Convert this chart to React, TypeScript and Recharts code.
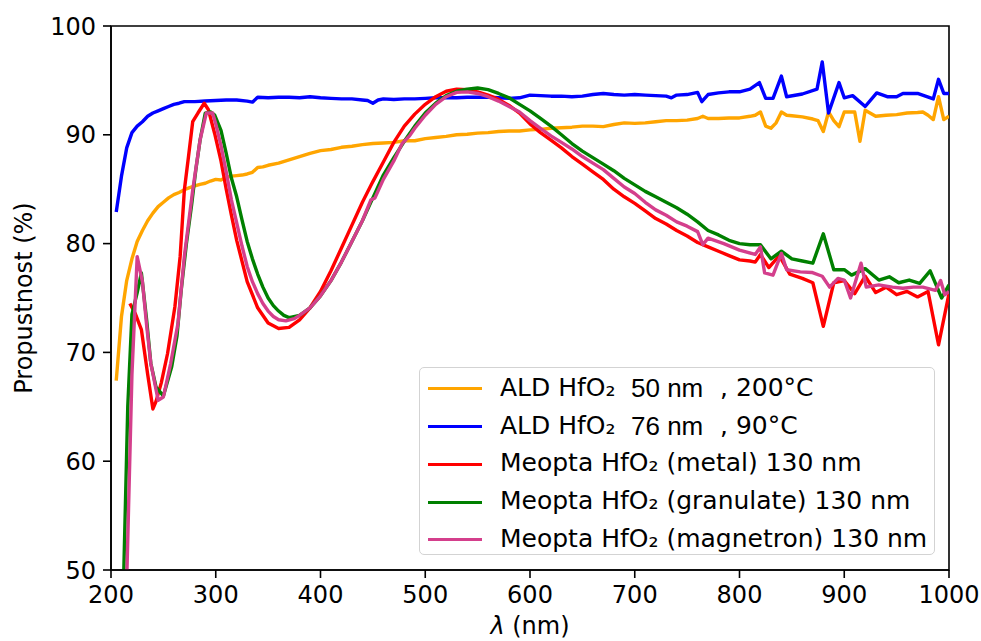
import { LineChart, Line, XAxis, YAxis, ReferenceArea, Label } from "recharts";

const xTicks = [200, 300, 400, 500, 600, 700, 800, 900, 1000];
const yTicks = [50, 60, 70, 80, 90, 100];

// ALD HfO2 50 nm, 200°C
const ald200Nm = [205, 210, 215, 220, 225, 230, 235, 240, 245, 250, 255, 260, 265, 270, 275, 280, 285, 290, 295, 300, 305, 310, 315, 320, 325, 330, 335, 340, 345, 350, 360, 370, 380, 390, 400, 410, 420, 430, 440, 450, 460, 470, 480, 490, 500, 510, 520, 530, 540, 550, 560, 570, 580, 590, 600, 610, 620, 630, 640, 650, 660, 670, 680, 690, 700, 710, 720, 730, 740, 750, 760, 765, 770, 780, 790, 800, 810, 815, 820, 825, 830, 835, 840, 845, 850, 860, 870, 875, 880, 885, 890, 895, 900, 905, 910, 915, 920, 930, 940, 950, 960, 970, 975, 980, 985, 990, 995, 1000];
const ald200T = [67.4, 73.3, 76.6, 78.6, 80.2, 81.2, 82.1, 82.8, 83.4, 83.8, 84.2, 84.5, 84.7, 84.95, 85.15, 85.3, 85.45, 85.55, 85.75, 85.9, 85.85, 86.1, 86.2, 86.25, 86.3, 86.4, 86.55, 87.0, 87.05, 87.2, 87.4, 87.7, 88.0, 88.3, 88.55, 88.65, 88.85, 88.95, 89.1, 89.2, 89.25, 89.3, 89.45, 89.45, 89.65, 89.75, 89.85, 90.0, 90.05, 90.15, 90.2, 90.3, 90.35, 90.35, 90.45, 90.5, 90.6, 90.65, 90.7, 90.8, 90.8, 90.75, 90.95, 91.1, 91.05, 91.1, 91.2, 91.3, 91.3, 91.35, 91.5, 91.7, 91.5, 91.5, 91.55, 91.55, 91.7, 91.8, 92.1, 90.8, 90.6, 91.1, 92.1, 91.8, 91.75, 91.65, 91.45, 91.3, 90.3, 92.1, 91.3, 90.75, 92.1, 92.1, 92.1, 89.4, 92.25, 91.7, 91.8, 91.85, 92.0, 92.05, 92.1, 91.8, 91.4, 93.5, 91.4, 91.7];

// ALD HfO2 76 nm, 90°C
const ald90Nm = [205, 210, 215, 220, 225, 230, 235, 240, 245, 250, 255, 260, 265, 270, 280, 290, 300, 310, 320, 330, 335, 340, 350, 360, 370, 380, 390, 400, 410, 420, 430, 440, 445, 450, 455, 460, 470, 480, 490, 500, 510, 520, 530, 540, 550, 560, 570, 580, 590, 600, 610, 620, 630, 640, 650, 660, 670, 680, 690, 700, 710, 720, 730, 735, 740, 750, 760, 764, 770, 780, 790, 800, 810, 819, 825, 832, 840, 845, 860, 874, 879, 885, 895, 900, 908, 920, 931, 941, 950, 956, 970, 985, 990, 995, 1000];
const ald90T = [82.9, 86.2, 88.8, 90.2, 90.8, 91.2, 91.7, 92.0, 92.2, 92.4, 92.6, 92.8, 92.9, 93.05, 93.05, 93.1, 93.15, 93.2, 93.2, 93.1, 93.0, 93.45, 93.4, 93.45, 93.45, 93.4, 93.5, 93.4, 93.35, 93.3, 93.3, 93.2, 93.15, 92.9, 93.2, 93.3, 93.25, 93.3, 93.3, 93.35, 93.4, 93.4, 93.4, 93.45, 93.45, 93.45, 93.4, 93.35, 93.4, 93.65, 93.6, 93.55, 93.55, 93.5, 93.55, 93.7, 93.8, 93.7, 93.65, 93.7, 93.65, 93.6, 93.55, 93.4, 93.65, 93.7, 93.9, 93.05, 93.7, 93.85, 93.95, 93.95, 94.2, 94.8, 93.35, 93.35, 95.4, 93.5, 93.75, 94.2, 96.7, 92.0, 94.8, 93.4, 93.6, 92.6, 93.85, 93.5, 93.5, 93.8, 93.8, 93.3, 95.1, 93.8, 93.8];

// Meopta HfO2 (metal) 130 nm
const metalNm = [218, 223, 229, 235, 240, 243, 248, 254, 261, 266, 270, 274, 278, 283, 289, 293, 299, 305, 310, 315, 320, 330, 340, 350, 360, 370, 380, 390, 400, 410, 420, 430, 440, 450, 460, 470, 480, 490, 500, 510, 520, 530, 540, 550, 560, 570, 580, 590, 600, 610, 620, 630, 640, 650, 660, 670, 680, 690, 700, 710, 720, 730, 740, 750, 760, 770, 780, 790, 800, 810, 815, 820, 828, 838, 848, 860, 870, 880, 890, 900, 910, 920, 930, 940, 950, 960, 970, 980, 990, 1000];
const metalT = [74.5, 73.6, 72.1, 68.0, 64.8, 65.5, 67.2, 69.9, 74.2, 78.8, 84.9, 88.0, 91.2, 92.0, 92.9, 92.3, 90.1, 87.6, 85.0, 82.6, 80.3, 76.5, 74.1, 72.7, 72.2, 72.3, 73.0, 74.1, 75.6, 77.5, 79.6, 81.7, 83.8, 85.7, 87.5, 89.3, 90.8, 91.9, 92.8, 93.5, 94.0, 94.2, 94.15, 93.95, 93.65, 93.25, 92.7, 92.0, 91.0, 90.2, 89.5, 88.8, 88.0, 87.3, 86.6, 85.9, 85.0, 84.3, 83.7, 83.0, 82.3, 81.8, 81.2, 80.7, 80.1, 79.7, 79.3, 78.9, 78.5, 78.4, 78.3, 79.0, 77.8, 78.9, 77.2, 76.8, 76.4, 72.4, 76.4, 76.6, 75.4, 77.0, 75.5, 76.0, 75.3, 75.6, 75.1, 75.6, 70.7, 75.4];

// Meopta HfO2 (granulate) 130 nm
const granNm = [212, 216, 220, 225, 229, 234, 238, 243, 250, 258, 263, 267, 272, 277, 281, 285, 290, 295, 299, 305, 310, 315, 320, 325, 330, 335, 340, 345, 350, 355, 360, 365, 370, 380, 390, 400, 410, 420, 430, 440, 450, 460, 470, 480, 490, 500, 510, 520, 530, 540, 550, 560, 570, 580, 590, 600, 610, 620, 630, 640, 650, 660, 670, 680, 690, 700, 710, 720, 730, 740, 750, 760, 770, 780, 790, 800, 810, 820, 830, 840, 850, 860, 870, 880, 890, 900, 907, 920, 933, 943, 952, 962, 972, 982, 993, 1000];
const granT = [49, 65, 73.5, 75.5, 77.3, 73.0, 69.0, 66.8, 66.0, 68.7, 71.5, 75.7, 80.0, 83.6, 86.8, 89.5, 92.0, 92.1, 91.8, 90.4, 88.3, 86.0, 84.3, 82.2, 80.2, 78.6, 77.2, 76.0, 75.0, 74.3, 73.8, 73.4, 73.2, 73.4, 74.1, 75.2, 76.6, 78.3, 80.2, 82.1, 84.2, 86.3, 87.9, 89.4, 90.8, 92.0, 92.9, 93.6, 94.0, 94.2, 94.3, 94.15, 93.8, 93.4, 92.8, 92.2, 91.5, 90.8, 90.0, 89.2, 88.5, 87.9, 87.3, 86.7, 86.0, 85.4, 84.8, 84.3, 83.8, 83.3, 82.7, 82.0, 81.2, 80.8, 80.3, 80.0, 79.9, 79.9, 78.6, 79.3, 78.6, 78.4, 78.2, 80.9, 77.6, 77.6, 77.1, 77.7, 76.65, 76.95, 76.4, 76.65, 76.35, 77.5, 75.0, 76.2];

// Meopta HfO2 (magnetron) 130 nm
const magNm = [215, 220, 225, 230, 234, 238, 245, 250, 257, 264, 270, 278, 285, 291, 297, 300, 305, 310, 315, 320, 325, 330, 335, 340, 345, 350, 355, 360, 367, 375, 380, 390, 400, 410, 420, 430, 440, 448, 452, 460, 470, 476, 478, 485, 490, 500, 510, 520, 530, 540, 550, 560, 570, 580, 590, 600, 610, 620, 630, 640, 650, 660, 670, 680, 690, 700, 710, 720, 730, 740, 750, 760, 765, 770, 785, 800, 815, 820, 824, 832, 840, 845, 858, 869, 879, 886, 894, 900, 906, 916, 921, 933, 946, 956, 966, 975, 987, 992, 996, 1000];
const magT = [49, 68, 78.8, 76.5, 72.5, 69.0, 65.6, 65.9, 69.0, 72.7, 78.8, 84.9, 89.5, 92.0, 92.0, 91.0, 89.0, 86.6, 84.0, 81.9, 79.8, 77.9, 76.5, 75.4, 74.5, 73.8, 73.3, 73.0, 72.9, 73.1, 73.4, 74.1, 75.2, 76.6, 78.3, 80.2, 82.1, 84.0, 84.2, 85.9, 87.6, 88.8, 89.2, 89.9, 90.6, 91.8, 92.8, 93.5, 93.9, 93.95, 93.8, 93.5, 93.1, 92.6, 92.1, 91.3, 90.6, 89.9, 89.3, 88.7, 88.0, 87.4, 86.8, 86.0, 85.2, 84.6, 83.8, 83.1, 82.6, 82.0, 81.6, 81.1, 79.9, 80.5, 80.0, 79.4, 79.0, 79.7, 77.3, 77.1, 79.1, 77.6, 77.4, 77.35, 77.0, 76.0, 76.8, 76.65, 75.0, 78.2, 76.0, 76.2, 76.0, 75.9, 76.0, 76.0, 75.7, 76.6, 75.3, 75.6];

const toPoints = (nm: number[], t: number[]) => nm.map((x, i) => ({ x, t: t[i] }));

const series = [
  { key: "ald200", color: "#ffa500", data: toPoints(ald200Nm, ald200T) },
  { key: "ald90", color: "#0000ff", data: toPoints(ald90Nm, ald90T) },
  { key: "metal", color: "#ff0000", data: toPoints(metalNm, metalT) },
  { key: "gran", color: "#008000", data: toPoints(granNm, granT) },
  { key: "mag", color: "#d43f8c", data: toPoints(magNm, magT) },
];

const FONT = "'DejaVu Sans', sans-serif";
const tickStyle = { fontSize: 24, fill: "#000", fontFamily: FONT };

function YTitle(props: any) {
  const vb = props.viewBox;
  const cx = 24;
  const cy = vb.y + vb.height / 2;
  return (
    <text x={cx} y={cy} transform={`rotate(-90 ${cx} ${cy})`} textAnchor="middle" dominantBaseline="central" fontSize={24} fontFamily={FONT} fill="#000">
      Propustnost (%)
    </text>
  );
}

function XTitle(props: any) {
  const vb = props.viewBox;
  const cx = vb.x + vb.width / 2;
  return (
    <text x={cx} y={634} textAnchor="middle" fontSize={24} fontFamily={FONT} fill="#000">
      <tspan fontStyle="italic">λ</tspan> (nm)
    </text>
  );
}

function LegendBox() {
  const rows = [
    { color: "#ffa500", parts: ["ALD HfO₂", "50 nm", ", 200°C"] },
    { color: "#0000ff", parts: ["ALD HfO₂", "76 nm", ", 90°C"] },
    { color: "#ff0000", parts: ["Meopta HfO₂ (metal) 130 nm"] },
    { color: "#008000", parts: ["Meopta HfO₂ (granulate) 130 nm"] },
    { color: "#d43f8c", parts: ["Meopta HfO₂ (magnetron) 130 nm"] },
  ];
  const rowY = [20.6, 58.5, 96.4, 134.4, 171.6];
  const textStyle = { position: "absolute" as const, top: 0, lineHeight: "30px", whiteSpace: "nowrap" as const };
  return (
    <div
      style={{
        position: "absolute",
        left: 419,
        top: 367,
        width: 514,
        height: 186,
        border: "1.5px solid #d3d3d3",
        borderRadius: 5,
        background: "rgba(255,255,255,0.8)",
        fontFamily: FONT,
        fontSize: 25,
        color: "#000",
      }}
    >
      {rows.map((r, i) => (
        <div key={i} style={{ position: "absolute", left: 0, top: rowY[i] - 16, width: "100%", height: 30 }}>
          <div style={{ position: "absolute", left: 8, top: 14.3, width: 54, height: 3.4, background: r.color }} />
          {r.parts.length === 1 ? (
            <span style={{ ...textStyle, left: 80 }}>{r.parts[0]}</span>
          ) : (
            <>
              <span style={{ ...textStyle, left: 80 }}>{r.parts[0]}</span>
              <span style={{ ...textStyle, left: 211, fontFamily: "'Liberation Sans', Arial, sans-serif", fontSize: 26 }}>{r.parts[1]}</span>
              <span style={{ ...textStyle, left: 300 }}>{r.parts[2]}</span>
            </>
          )}
        </div>
      ))}
    </div>
  );
}

export default function App() {
  return (
    <div style={{ position: "absolute", left: 0, top: 0, width: 981, height: 641, background: "#fff" }}>
      <LineChart width={981} height={641} margin={{ top: 26, right: 32, bottom: 0, left: 0 }}>
        <XAxis
          type="number"
          dataKey="x"
          domain={[200, 1000]}
          ticks={xTicks}
          allowDataOverflow
          height={71}
          tickSize={8}
          tickMargin={8}
          tick={tickStyle}
          stroke="#000"
          strokeWidth={1.6}
          interval={0}
        >
          <Label content={XTitle} />
        </XAxis>
        <YAxis
          type="number"
          dataKey="t"
          domain={[50, 100]}
          ticks={yTicks}
          allowDataOverflow
          width={111}
          tickSize={8}
          tickMargin={7}
          tick={tickStyle}
          stroke="#000"
          strokeWidth={1.6}
          interval={0}
        >
          <Label content={YTitle} />
        </YAxis>
        <ReferenceArea x1={200} x2={1000} y1={50} y2={100} fill="none" fillOpacity={0} stroke="#000" strokeWidth={1.6} />
        {series.map((s) => (
          <Line
            key={s.key}
            data={s.data}
            dataKey="t"
            type="linear"
            stroke={s.color}
            strokeWidth={3.4}
            strokeLinejoin="round"
            dot={false}
            activeDot={false}
            isAnimationActive={false}
          />
        ))}
      </LineChart>
      <LegendBox />
    </div>
  );
}
